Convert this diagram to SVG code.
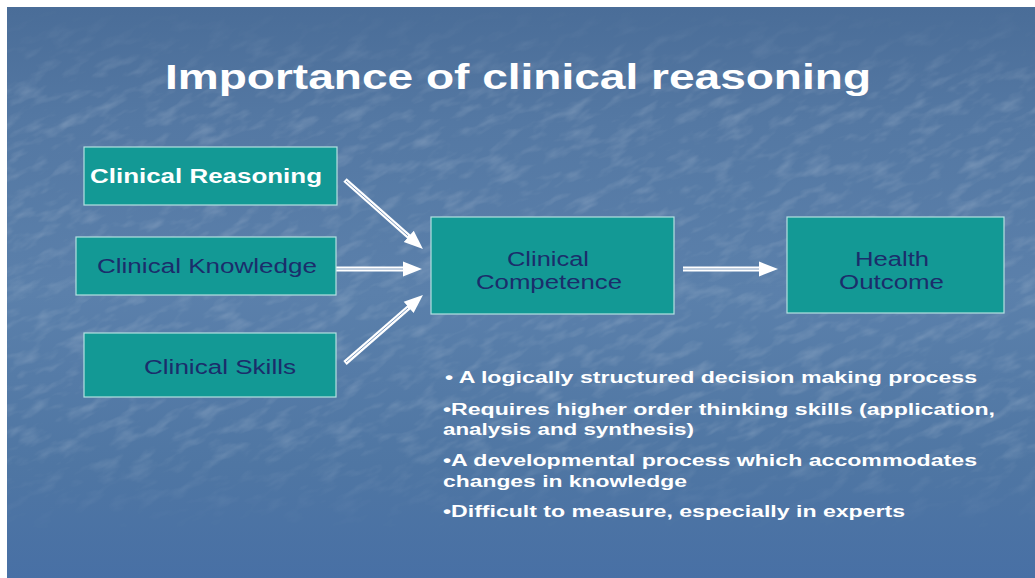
<svg xmlns="http://www.w3.org/2000/svg" width="1035" height="578" viewBox="0 0 1035 578">
  <defs>
    <linearGradient id="bg" x1="0" y1="0" x2="0" y2="1">
      <stop offset="0" stop-color="#4a6d98"/>
      <stop offset="0.2" stop-color="#5478a3"/>
      <stop offset="0.5" stop-color="#5b80ab"/>
      <stop offset="0.8" stop-color="#4f76a3"/>
      <stop offset="1" stop-color="#4870a5"/>
    </linearGradient>
    <linearGradient id="fade" x1="0" y1="0" x2="0" y2="1">
      <stop offset="0" stop-color="#000"/>
      <stop offset="0.15" stop-color="#fff"/>
      <stop offset="0.75" stop-color="#fff"/>
      <stop offset="0.92" stop-color="#000"/>
    </linearGradient>
    <mask id="texMask">
      <rect x="7" y="7" width="1028" height="571" fill="url(#fade)"/>
    </mask>
    <filter id="tex" x="0" y="0" width="1" height="1">
      <feTurbulence type="fractalNoise" baseFrequency="0.035 0.09" numOctaves="3" seed="7"/>
      <feColorMatrix values="0 0 0 0 1  0 0 0 0 1  0 0 0 0 1  1.1 0 0 0 -0.52"/>
    </filter>
    <marker id="head" markerUnits="userSpaceOnUse" markerWidth="20" markerHeight="18" viewBox="0 0 20 18" refX="1" refY="9" orient="auto">
      <path d="M0,1.5 L19,9 L0,16.5 z" fill="#ffffff"/>
    </marker>
    <style>
      .box { fill: #139995; stroke: #b4e2e2; stroke-width: 1.2; }
      .lbl { font-family: "Liberation Sans", Arial, sans-serif; font-size: 20px; fill: #1b2d6b; }
      .lblw { font-family: "Liberation Sans", Arial, sans-serif; font-size: 19.5px; font-weight: bold; fill: #ffffff; }
      .title { font-family: "Liberation Sans", Arial, sans-serif; font-size: 35px; font-weight: bold; fill: #ffffff; }
      .bul { font-family: "Liberation Sans", Arial, sans-serif; font-size: 16px; font-weight: bold; fill: #ffffff; }
      .shaft { fill: none; stroke: #ffffff; stroke-width: 5; }
      .gap { fill: none; stroke: #7f9cc0; stroke-width: 1; }
    </style>
  </defs>

  <rect x="0" y="0" width="1035" height="578" fill="#ffffff"/>
  <rect x="7" y="7" width="1028" height="571" fill="url(#bg)"/>
  <g mask="url(#texMask)">
    <rect x="-250" y="-300" width="1535" height="1178" filter="url(#tex)" opacity="0.35" transform="rotate(-25 517 289)"/>
  </g>

  <text class="title" x="165" y="89" textLength="706" lengthAdjust="spacingAndGlyphs">Importance of clinical reasoning</text>

  <g id="connectors">
    <line class="shaft" x1="345" y1="180" x2="409.5" y2="237.1" marker-end="url(#head)"/>
    <line class="gap" x1="346" y1="181" x2="408" y2="235.8"/>
    <line class="shaft" x1="336" y1="269" x2="404" y2="269" marker-end="url(#head)"/>
    <line class="gap" x1="336" y1="269" x2="403" y2="269"/>
    <line class="shaft" x1="345" y1="363" x2="409.4" y2="306.8" marker-end="url(#head)"/>
    <line class="gap" x1="346" y1="362" x2="408" y2="308"/>
    <line class="shaft" x1="683" y1="269" x2="760" y2="269" marker-end="url(#head)"/>
    <line class="gap" x1="683" y1="269" x2="759" y2="269"/>
  </g>

  <g id="node-reasoning">
    <rect class="box" x="84" y="147" width="253" height="58"/>
    <text class="lblw" x="90" y="183" textLength="232" lengthAdjust="spacingAndGlyphs">Clinical Reasoning</text>
  </g>
  <g id="node-knowledge">
    <rect class="box" x="76" y="237" width="260" height="58"/>
    <text class="lbl" x="97" y="273" textLength="220" lengthAdjust="spacingAndGlyphs">Clinical Knowledge</text>
  </g>
  <g id="node-skills">
    <rect class="box" x="84" y="333" width="252" height="64"/>
    <text class="lbl" x="144" y="374" textLength="152" lengthAdjust="spacingAndGlyphs">Clinical Skills</text>
  </g>
  <g id="node-competence">
    <rect class="box" x="431" y="217" width="243" height="97"/>
    <text class="lbl" x="507" y="266" textLength="82" lengthAdjust="spacingAndGlyphs">Clinical</text>
    <text class="lbl" x="476" y="289" textLength="146" lengthAdjust="spacingAndGlyphs">Competence</text>
  </g>
  <g id="node-outcome">
    <rect class="box" x="787" y="217" width="217" height="96"/>
    <text class="lbl" x="855" y="266" textLength="74" lengthAdjust="spacingAndGlyphs">Health</text>
    <text class="lbl" x="839" y="289" textLength="105" lengthAdjust="spacingAndGlyphs">Outcome</text>
  </g>

  <g id="bullets">
    <text class="bul" x="445" y="383" textLength="532" lengthAdjust="spacingAndGlyphs">• A logically structured decision making process</text>
    <text class="bul" x="443" y="415" textLength="552" lengthAdjust="spacingAndGlyphs">•Requires higher order thinking skills (application,</text>
    <text class="bul" x="443" y="435" textLength="251" lengthAdjust="spacingAndGlyphs">analysis and synthesis)</text>
    <text class="bul" x="443" y="466" textLength="534" lengthAdjust="spacingAndGlyphs">•A developmental process which accommodates</text>
    <text class="bul" x="443" y="487" textLength="244" lengthAdjust="spacingAndGlyphs">changes in knowledge</text>
    <text class="bul" x="443" y="517" textLength="462" lengthAdjust="spacingAndGlyphs">•Difficult to measure, especially in experts</text>
  </g>
</svg>
